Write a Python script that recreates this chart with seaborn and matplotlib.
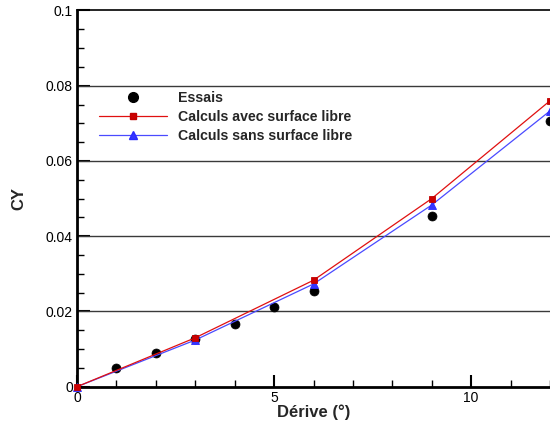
import matplotlib
matplotlib.use("Agg")
import matplotlib.pyplot as plt
import seaborn as sns
import pandas as pd
from matplotlib.ticker import MultipleLocator
from matplotlib.lines import Line2D

essais_x = [1, 2, 3, 4, 5, 6, 9, 12]
essais_y = [0.005, 0.009, 0.0127, 0.0166, 0.0211, 0.0255, 0.0454, 0.0707]
calc_x = [0, 3, 6, 9, 12]
avec_y = [0.0, 0.013, 0.0283, 0.050, 0.076]
sans_y = [0.0, 0.0124, 0.0273, 0.0483, 0.0733]

sns.set_theme(style="white")
plt.rcParams['font.family'] = ['Liberation Sans', 'DejaVu Sans']

fig = plt.figure(figsize=(5.5, 4.28), dpi=100)
ax = fig.add_axes([0.14, 0.0965, 0.86, 0.879])

df_e = pd.DataFrame({"x": essais_x, "y": essais_y})
df_a = pd.DataFrame({"x": calc_x, "y": avec_y})
df_s = pd.DataFrame({"x": calc_x, "y": sans_y})

red = "#e01010"
blue = "#4a4aff"

sns.scatterplot(data=df_e, x="x", y="y", ax=ax, color="black", s=42,
                edgecolor="black", linewidth=0.5, zorder=3)
sns.lineplot(data=df_s, x="x", y="y", ax=ax, color=blue, lw=0.9,
             marker="^", markersize=5.5, markeredgewidth=0.6,
             markeredgecolor="#2a2aff", markerfacecolor="#3535ff", zorder=4)
sns.lineplot(data=df_a, x="x", y="y", ax=ax, color=red, lw=0.9,
             marker="s", markersize=5, markeredgewidth=0.6,
             markeredgecolor="#c00000", markerfacecolor="#cc0000", zorder=5)
for ln in ax.lines:
    ln.set_clip_on(False)
for col in ax.collections:
    col.set_clip_on(False)

ax.set_xlim(0, 12)
ax.set_ylim(0, 0.1)
ax.xaxis.set_minor_locator(MultipleLocator(1))
ax.yaxis.set_minor_locator(MultipleLocator(0.005))
ax.set_yticks([0, 0.02, 0.04, 0.06, 0.08, 0.1])
ax.set_yticklabels(["0", "0.02", "0.04", "0.06", "0.08", "0.1"])
ax.set_xticks([0, 5, 10])
ax.set_xticklabels(["0", "5", "10"])

ax.tick_params(which="major", direction="in", length=9, width=1.5,
               labelsize=10, colors="black", pad=3)
ax.tick_params(which="minor", direction="in", length=5, width=1.0,
               colors="black")
ax.tick_params(axis="x", which="both", bottom=True, top=False)
ax.tick_params(axis="y", which="both", left=True, right=False)

for yv in [0.02, 0.04, 0.06, 0.08]:
    ax.axhline(yv, color="#3a3a3a", lw=1.0, zorder=1)
ax.axhline(0.1, color="black", lw=1.2, zorder=1, clip_on=False)

ax.spines["right"].set_visible(False)
ax.spines["top"].set_visible(False)
ax.spines["left"].set_linewidth(2.0)
ax.spines["bottom"].set_linewidth(2.0)
ax.spines["left"].set_color("black")
ax.spines["bottom"].set_color("black")

ax.set_xlabel("Dérive (°)", fontsize=12, fontweight="bold", labelpad=0)
ax.set_ylabel("CY", fontsize=12, fontweight="bold", labelpad=14)

handles = [
    Line2D([], [], color="none", marker="o", markersize=7,
           markerfacecolor="black", markeredgecolor="black"),
    Line2D([], [], color=red, lw=0.9, marker="s", markersize=5,
           markerfacecolor="#cc0000", markeredgecolor="#c00000"),
    Line2D([], [], color=blue, lw=0.9, marker="^", markersize=5.5,
           markerfacecolor="#3535ff", markeredgecolor="#2a2aff"),
]
labels = ["Essais", "Calculs avec surface libre", "Calculs sans surface libre"]
leg = ax.legend(handles, labels, loc="upper left",
                bbox_to_anchor=(0.047, 0.786), frameon=False,
                prop={"weight": "bold", "size": 10.2}, handlelength=4.75,
                handletextpad=0.8, labelspacing=0.35, borderaxespad=0,
                borderpad=0)

fig.savefig("out.png", dpi=100)
